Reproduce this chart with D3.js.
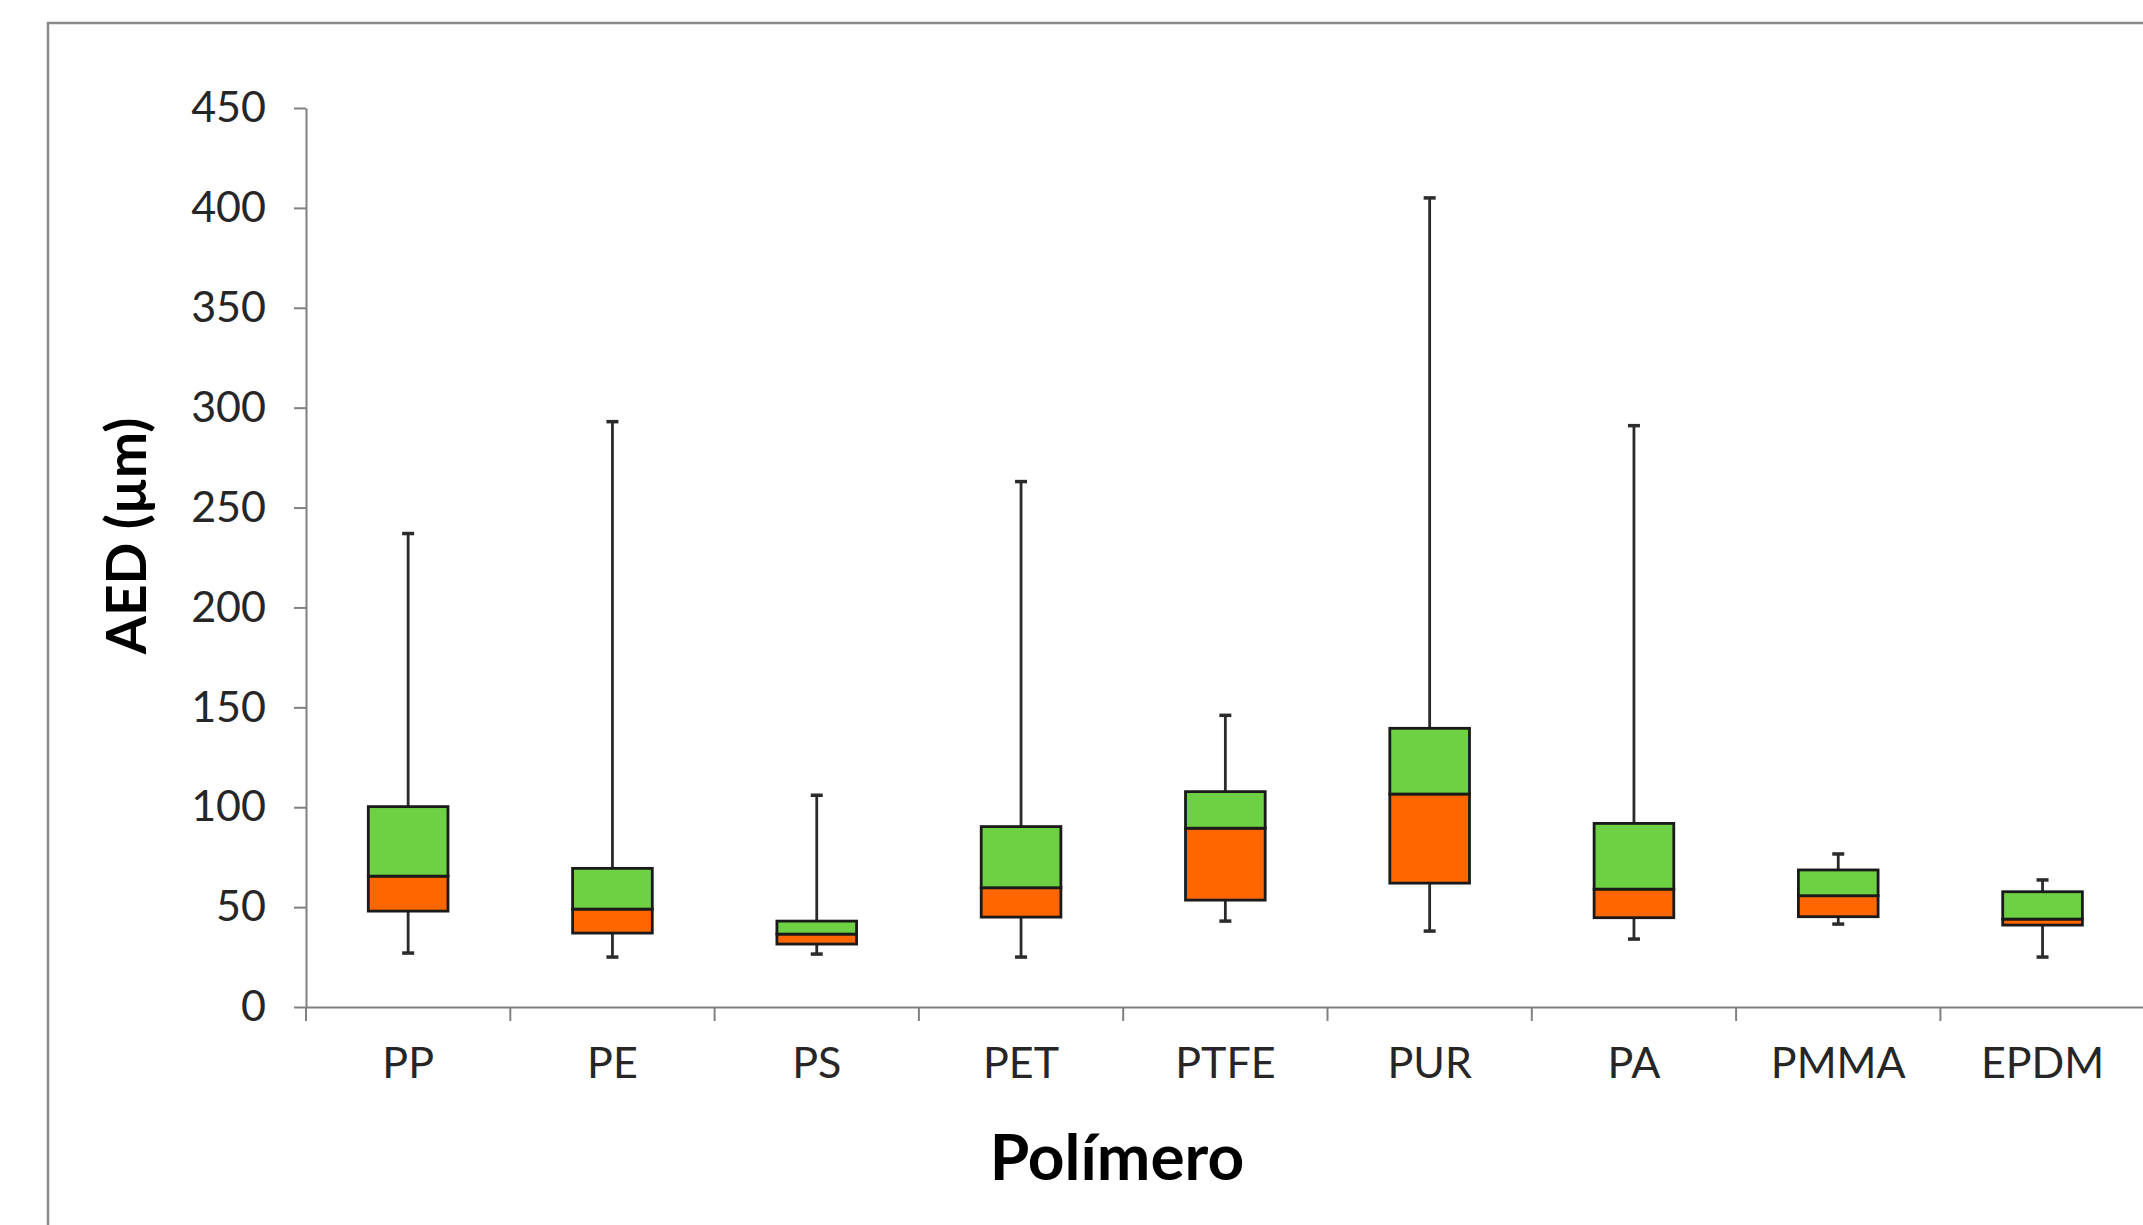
<!DOCTYPE html>
<html>
  <head>
    <meta charset="utf-8">
    <title>AED por polímero</title>
    <script src="https://d3js.org/d3.v7.min.js"></script>
    <style>
      body { margin: 0; background: #fff; }
      svg { display: block; }
      .tick text { font-family: Lato, sans-serif; fill: #262626; }
    </style>
  </head>
  <body>
    <div id="chart"></div>
    <script>
      // values
      var polymers = ["PP", "PE", "PS", "PET", "PTFE", "PUR", "PA", "PMMA", "EPDM"];
      var whiskerLow = [27, 25, 26.5, 25, 43, 38, 34, 41.5, 25];
      var q1 = [48, 37, 31.5, 45, 53.5, 62, 44.7, 45.2, 41];
      var median = [65.5, 49, 36.5, 59.7, 89.5, 106.6, 59, 55.7, 44];
      var q3 = [100.3, 69.4, 43, 90.3, 107.8, 139.5, 91.9, 68.6, 57.7];
      var whiskerHigh = [237, 293, 106, 263, 146, 405, 291, 76.6, 63.6];
      var yTicks = [0, 50, 100, 150, 200, 250, 300, 350, 400, 450];

      var width = 2143, height = 1225;

      var svg = d3.select("#chart")
        .append("svg")
          .attr("width", width)
          .attr("height", height);

      // outer frame (cut off on the right and bottom)
      svg.append("rect")
        .attr("x", 48)
        .attr("y", 23)
        .attr("width", 2200)
        .attr("height", 1300)
        .attr("fill", "none")
        .attr("stroke", "#8a8a8a")
        .attr("stroke-width", 2.5);

      var x = d3.scaleBand()
        .domain(polymers)
        .range([306, 306 + 9 * 204.3]);

      var y = d3.scaleLinear()
        .domain([0, 450])
        .range([1007, 108]);

      // y axis
      var yAxis = svg.append("g")
        .attr("transform", "translate(306,0)")
        .call(d3.axisLeft(y).tickValues(yTicks).tickSize(12).tickPadding(28).tickSizeOuter(0));
      yAxis.selectAll("text").style("font-size", "43px");

      // x axis with ticks at the category boundaries
      var xAxis = svg.append("g")
        .attr("transform", "translate(0,1007)")
        .call(d3.axisBottom(x).tickSize(0).tickPadding(40).tickSizeOuter(0));
      xAxis.selectAll("text").style("font-size", "43px");
      xAxis.selectAll(".tick").append("line")
        .attr("x1", -x.bandwidth() / 2)
        .attr("x2", -x.bandwidth() / 2)
        .attr("y1", 0)
        .attr("y2", 14)
        .attr("stroke", "#808080")
        .attr("stroke-width", 2);

      svg.selectAll(".domain, .tick line")
        .attr("stroke", "#808080")
        .attr("stroke-width", 2);

      var boxW = x.bandwidth() * 0.39;
      var capW = 12;

      var rows = polymers.map(function(p, i) {
        return { name: p, lo: whiskerLow[i], q1: q1[i], med: median[i], q3: q3[i], hi: whiskerHigh[i] };
      });

      var g = svg.selectAll(".box")
        .data(rows)
        .enter()
        .append("g")
          .attr("class", "box")
          .attr("transform", function(d) { return "translate(" + (x(d.name) + x.bandwidth() / 2) + ",0)"; });

      // whiskers
      g.append("line")
        .attr("x1", 0).attr("x2", 0)
        .attr("y1", function(d) { return y(d.hi); })
        .attr("y2", function(d) { return y(d.q3); })
        .attr("stroke", "#2b2b2b").attr("stroke-width", 2.8);
      g.append("line")
        .attr("x1", 0).attr("x2", 0)
        .attr("y1", function(d) { return y(d.q1); })
        .attr("y2", function(d) { return y(d.lo); })
        .attr("stroke", "#2b2b2b").attr("stroke-width", 2.8);
      g.append("line")
        .attr("x1", -capW / 2).attr("x2", capW / 2)
        .attr("y1", function(d) { return y(d.hi); })
        .attr("y2", function(d) { return y(d.hi); })
        .attr("stroke", "#2b2b2b").attr("stroke-width", 3.5);
      g.append("line")
        .attr("x1", -capW / 2).attr("x2", capW / 2)
        .attr("y1", function(d) { return y(d.lo); })
        .attr("y2", function(d) { return y(d.lo); })
        .attr("stroke", "#2b2b2b").attr("stroke-width", 3.5);

      // lower half of the box (orange) and upper half (green)
      g.append("rect")
        .attr("x", -boxW / 2)
        .attr("width", boxW)
        .attr("y", function(d) { return y(d.med); })
        .attr("height", function(d) { return y(d.q1) - y(d.med); })
        .attr("fill", "#ff6600")
        .attr("stroke", "#1a1a1a")
        .attr("stroke-width", 2.8);
      g.append("rect")
        .attr("x", -boxW / 2)
        .attr("width", boxW)
        .attr("y", function(d) { return y(d.q3); })
        .attr("height", function(d) { return y(d.med) - y(d.q3); })
        .attr("fill", "#6dd143")
        .attr("stroke", "#1a1a1a")
        .attr("stroke-width", 2.8);

      // axis titles
      svg.append("text")
        .attr("transform", "translate(146,536) rotate(-90)")
        .attr("text-anchor", "middle")
        .style("font-family", "Lato, sans-serif")
        .style("font-weight", "bold")
        .style("font-size", "55px")
        .text("AED (µm)");

      svg.append("text")
        .attr("x", 1117)
        .attr("y", 1180)
        .attr("text-anchor", "middle")
        .style("font-family", "Lato, sans-serif")
        .style("font-weight", "bold")
        .style("font-size", "64px")
        .text("Polímero");
    </script>
  </body>
</html>
